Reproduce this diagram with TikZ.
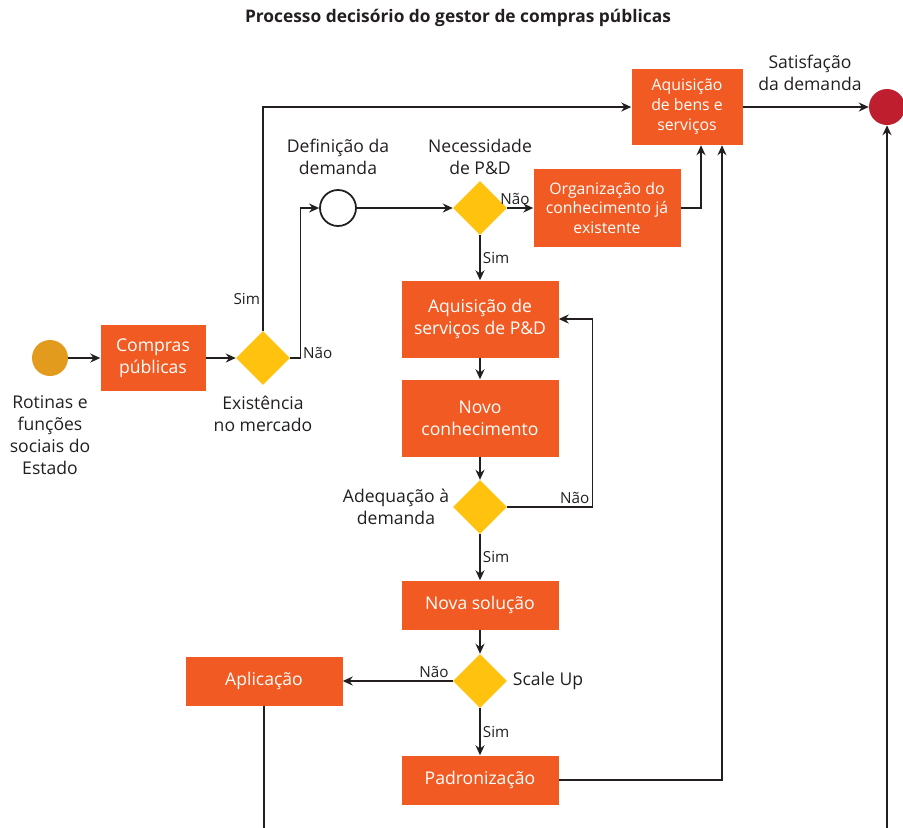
\documentclass[tikz,border=0pt]{standalone}
\usepackage{fontspec}
\setmainfont{Open Sans}
\usetikzlibrary{positioning,shapes.geometric,arrows.meta}
\definecolor{laranja}{HTML}{F15A22}
\definecolor{amarelo}{HTML}{FEC20F}
\definecolor{ouro}{HTML}{E39B1E}
\definecolor{vermelho}{HTML}{BE1E2D}
\definecolor{traco}{HTML}{231F20}
\begin{document}
\begin{tikzpicture}[on grid,
  >={Stealth[length=0.3cm,width=0.27cm]},
  caixa/.style={rectangle,fill=laranja,text=white,align=center,inner sep=0pt,font=\fontsize{15}{18.8}\selectfont},
  caixinha/.style={caixa,font=\fontsize{13.5}{17}\selectfont},
  decisao/.style={diamond,fill=amarelo,inner sep=0pt,minimum size=1.62cm},
  evento/.style={circle,inner sep=0pt,minimum size=1.08cm},
  rotulo/.style={align=center,text=traco,inner sep=0pt,font=\fontsize{15}{18.8}\selectfont},
  resp/.style={text=traco,inner sep=2pt,font=\fontsize{13}{15}\selectfont},
  fluxo/.style={->,draw=traco,line width=1.1pt}]
\useasboundingbox (0,0) rectangle (27.09,-24.84);
\coordinate (fundo) at (0,-24.84);
\node[text=traco,font=\fontsize{14.8}{17}\selectfont\bfseries] (titulo) at (13.74,-0.54) {Processo decisório do gestor de compras públicas};
\node[evento,fill=ouro]                            (inicio)   at (1.5,-10.74) {};
\node[caixa,minimum width=3.15cm,minimum height=1.98cm] (compras)  [right=3.09cm of inicio]  {Compras\\públicas};
\node[decisao]                                     (mercado)  [right=3.3cm of compras]  {};
\node[evento,draw=traco,line width=1.5pt,fill=white] (demanda) at (10.14,-6.24) {};
\node[decisao]                                     (necess)   [right=4.26cm of demanda] {};
\node[caixinha,minimum width=4.41cm,minimum height=2.34cm] (organiz) [right=3.81cm of necess] {Organização do\\conhecimento já\\existente};
\node[caixinha,minimum width=3.33cm,minimum height=2.28cm] (aqbens) at (20.61,-3.21) {Aquisição\\de bens e\\serviços};
\node[evento,fill=vermelho]                        (satisf)   [right=6cm of aqbens]     {};
\node[caixa,minimum width=4.71cm,minimum height=2.31cm] (pdserv)  [below=3.33cm of necess] {Aquisição de\\serviços de P\&D};
\node[caixa,minimum width=4.71cm,minimum height=2.31cm] (novo)    [below=2.97cm of pdserv] {Novo\\conhecimento};
\node[decisao]                                     (adequ)    [below=2.67cm of novo]    {};
\node[caixa,minimum width=4.71cm,minimum height=1.47cm] (nova)    [below=2.94cm of adequ]  {Nova solução};
\node[decisao]                                     (scaleup)  [below=2.28cm of nova]    {};
\node[caixa,minimum width=4.71cm,minimum height=1.47cm] (padr)    [below=2.97cm of scaleup] {Padronização};
\node[caixa,minimum width=4.71cm,minimum height=1.47cm] (aplic)   [left=6.48cm of scaleup] {Aplicação};
\node[rotulo] (rotinas)    [below=2.31cm of inicio]    {Rotinas e\\funções\\sociais do\\Estado};
\node[rotulo] (existencia) [below=1.68cm of mercado]   {Existência\\no mercado};
\node[rotulo] (definicao)  [above=1.53cm of demanda]   {Definição da\\demanda};
\node[rotulo] (pdlbl)      [above=1.53cm of necess]    {Necessidade\\de P\&D};
\node[rotulo] (satislbl)   at (24.3,-2.19)             {Satisfação\\da demanda};
\node[rotulo] (adeqlbl)    [left=2.52cm of adequ]      {Adequação à\\demanda};
\node[rotulo] (scalelbl)   [right=2.04cm of scaleup]   {Scale Up};
\draw[fluxo] (inicio) -- (compras);
\draw[fluxo] (compras) -- (mercado);
\draw[fluxo] (mercado.north) |- node[resp,pos=0.07,left] {Sim} (aqbens.west);
\draw[fluxo] (mercado.east) -- ++(0.3,0) node[resp,right,yshift=0.15cm] {Não} |- (demanda.west);
\draw[fluxo] (demanda) -- (necess);
\draw[fluxo] (necess.east) -- node[resp,above,pos=0.3] {Não} (organiz.west);
\draw[fluxo] (organiz.east) -| ([xshift=0.42cm]aqbens.south);
\draw[fluxo] (aqbens.east) -- (satisf.west);
\draw[fluxo] (satisf.south |- fundo) -- (satisf.south);
\draw[fluxo] (necess.south) -- node[resp,right] {Sim} (pdserv.north);
\draw[fluxo] (pdserv) -- (novo);
\draw[fluxo] (novo) -- (adequ);
\draw[fluxo] (adequ.east) -- ++(2.55,0) node[resp,above left] {Não} |- (pdserv.east);
\draw[fluxo] (adequ.south) -- node[resp,right] {Sim} (nova.north);
\draw[fluxo] (nova) -- (scaleup);
\draw[fluxo] (scaleup.west) -- node[resp,above,pos=0.17] {Não} (aplic.east);
\draw[fluxo] (scaleup.south) -- node[resp,right] {Sim} (padr.north);
\draw[fluxo] (padr.east) -| ([xshift=1.05cm]aqbens.south);
\draw[draw=traco,line width=1.1pt] (aplic.south) -- (aplic.south |- fundo);
\end{tikzpicture}
\end{document}
